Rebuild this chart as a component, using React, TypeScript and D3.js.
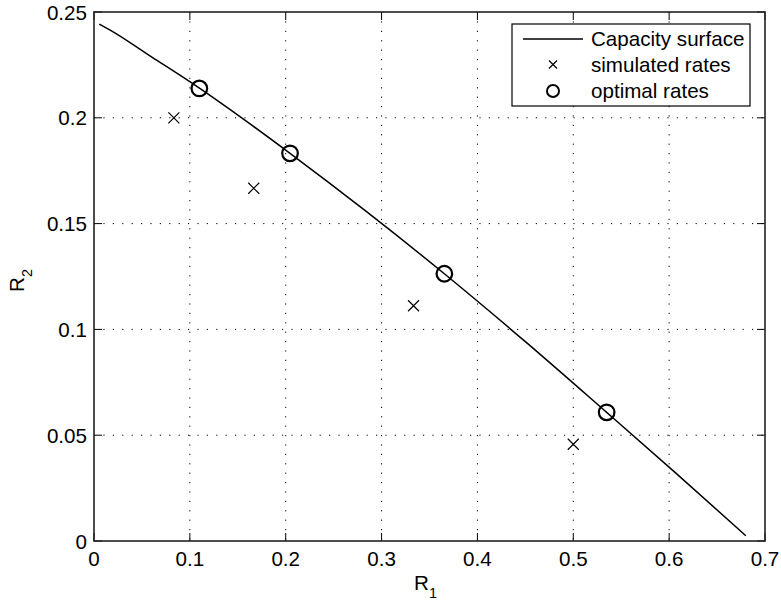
import * as d3 from "d3";

// capacity surface boundary
const curveR1 = [0.0055, 0.016, 0.06, 0.11, 0.157, 0.2045, 0.285, 0.3655, 0.45, 0.5348, 0.607, 0.68];
const curveR2 = [0.2443, 0.2417, 0.2288, 0.214, 0.199, 0.1832, 0.1554, 0.1263, 0.0942, 0.0608, 0.0321, 0.0025];

const simR1 = [1 / 12, 1 / 6, 1 / 3, 1 / 2];
const simR2 = [0.2, 0.1667, 0.1112, 0.0457];

const optR1 = [0.1099, 0.2045, 0.3655, 0.5348];
const optR2 = [0.2139, 0.1832, 0.1263, 0.0608];

const xTicks = [0, 0.1, 0.2, 0.3, 0.4, 0.5, 0.6, 0.7];
const yTicks = [0, 0.05, 0.1, 0.15, 0.2, 0.25];

const legendLabels = ["Capacity surface", "simulated rates", "optimal rates"];

const W = 781;
const H = 603;
const left = 94;
const right = 765;
const top = 12;
const bottom = 541;
const font = "'Liberation Sans', Arial, Helvetica, sans-serif";
const fs = 20.6;

function Cross({ x, y, s }: { x: number; y: number; s: number }) {
  return (
    <path
      d={`M${x - s},${y - s}L${x + s},${y + s}M${x - s},${y + s}L${x + s},${y - s}`}
      stroke="#000"
      strokeWidth={1.2}
      fill="none"
    />
  );
}

export default function App() {
  const x = d3.scaleLinear().domain([0, 0.7]).range([left, right]);
  const y = d3.scaleLinear().domain([0, 0.25]).range([bottom, top]);

  const pts: [number, number][] = curveR1.map((r, i) => [r, curveR2[i]]);
  const line = d3
    .line<[number, number]>()
    .x((d) => x(d[0]))
    .y((d) => y(d[1]))
    .curve(d3.curveMonotoneX);

  const grid = "#000";
  const dash = "1.2 8.2";
  const tickLen = 8;

  const lx = 512;
  const ly = 24;
  const lw = 238;
  const lh = 82;

  return (
    <svg
      width={W}
      height={H}
      style={{ position: "absolute", left: 0, top: 0, background: "#fff" }}
      fontFamily={font}
    >
      <rect x={0} y={0} width={W} height={H} fill="#fff" />

      {/* grid */}
      {xTicks.slice(1, -1).map((t) => (
        <line key={"gx" + t} x1={x(t)} x2={x(t)} y1={top} y2={bottom} stroke={grid} strokeWidth={1} strokeDasharray={dash} />
      ))}
      {yTicks.slice(1, -1).map((t) => (
        <line key={"gy" + t} x1={left} x2={right} y1={y(t)} y2={y(t)} stroke={grid} strokeWidth={1} strokeDasharray={dash} />
      ))}

      {/* ticks, inside on all four sides */}
      {xTicks.map((t) => (
        <g key={"tx" + t} stroke="#000" strokeWidth={1}>
          <line x1={x(t)} x2={x(t)} y1={bottom} y2={bottom - tickLen} />
          <line x1={x(t)} x2={x(t)} y1={top} y2={top + tickLen} />
        </g>
      ))}
      {yTicks.map((t) => (
        <g key={"ty" + t} stroke="#000" strokeWidth={1}>
          <line x1={left} x2={left + tickLen} y1={y(t)} y2={y(t)} />
          <line x1={right} x2={right - tickLen} y1={y(t)} y2={y(t)} />
        </g>
      ))}

      {/* data */}
      <path d={line(pts) ?? ""} fill="none" stroke="#000" strokeWidth={1.5} />
      {simR1.map((r, i) => (
        <Cross key={"s" + i} x={x(r)} y={y(simR2[i])} s={5.5} />
      ))}
      {optR1.map((r, i) => (
        <circle key={"o" + i} cx={x(r)} cy={y(optR2[i])} r={7.8} fill="none" stroke="#000" strokeWidth={2.2} />
      ))}

      {/* axes box */}
      <rect x={left} y={top} width={right - left} height={bottom - top} fill="none" stroke="#222" strokeWidth={1.6} />

      {/* tick labels */}
      {xTicks.map((t) => (
        <text key={"lx" + t} x={x(t)} y={566} textAnchor="middle" fontSize={fs} fill="#000">
          {d3.format("~g")(t)}
        </text>
      ))}
      {yTicks.map((t) => (
        <text key={"ly" + t} x={left - 7} y={y(t) + 7.5} textAnchor="end" fontSize={fs} fill="#000">
          {d3.format("~g")(t)}
        </text>
      ))}

      {/* axis labels */}
      <text x={(left + right) / 2 - 4} y={590} textAnchor="middle" fontSize={fs} fill="#000">
        R<tspan fontSize={14.5} dy={8}>1</tspan>
      </text>
      <text transform={`translate(24,${(top + bottom) / 2 + 4}) rotate(-90)`} textAnchor="middle" fontSize={fs} fill="#000">
        R<tspan fontSize={14.5} dy={8}>2</tspan>
      </text>

      {/* legend */}
      <rect x={lx} y={ly} width={lw} height={lh} fill="#fff" stroke="#000" strokeWidth={1.2} />
      <line x1={523} x2={583} y1={39} y2={39} stroke="#000" strokeWidth={1.5} />
      <Cross x={553} y={64.5} s={4} />
      <circle cx={553} cy={91} r={6} fill="none" stroke="#000" strokeWidth={2} />
      {legendLabels.map((s, i) => (
        <text key={s} x={591} y={46 + i * 26} fontSize={fs} fill="#000">
          {s}
        </text>
      ))}
    </svg>
  );
}
